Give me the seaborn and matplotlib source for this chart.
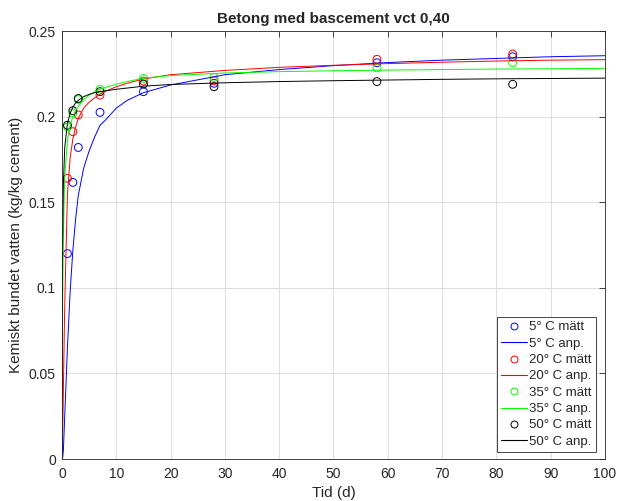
# BETONG MED BASCEMENT VCT 0,40 - KEMISKT BUNDET VATTEN

import pandas as pd
import numpy as np
import matplotlib
matplotlib.use('Agg')
import matplotlib.pyplot as plt
import seaborn as sns
from matplotlib.lines import Line2D


# MEASURED DATA (mätt)

days = [1, 2, 3, 7, 15, 28, 58, 83]
w_5 = [0.120, 0.1616, 0.182, 0.2025, 0.2146, 0.2195, 0.2315, 0.2350]
w_20 = [0.164, 0.1912, 0.201, 0.2126, 0.2208, 0.2210, 0.2335, 0.2366]
w_35 = [0.194, 0.2020, 0.210, 0.2160, 0.2223, 0.2229, 0.2285, 0.2315]
w_50 = [0.195, 0.2035, 0.2106, 0.2146, 0.2190, 0.2175, 0.2205, 0.2189]


# FITTED CURVES (anp.)

t_fit = [0, 0.1, 0.25, 0.5, 1, 1.5, 2, 2.5, 3, 4, 5, 6, 7, 8, 10, 12, 15, 20,
         30, 40, 50, 60, 70, 80, 90, 100]
fit_5 = [0, 0.0, 0.005, 0.025, 0.065, 0.098, 0.122, 0.140, 0.154, 0.170, 0.180, 0.188,
         0.195, 0.198, 0.205, 0.2095, 0.214, 0.2185,
         0.2245, 0.2275, 0.2298, 0.2316, 0.233, 0.234, 0.235, 0.2356]
fit_20 = [0, 0.01, 0.04, 0.09, 0.155, 0.176, 0.187, 0.194, 0.199, 0.205, 0.2085, 0.211,
          0.213, 0.2148, 0.2175, 0.2195, 0.222, 0.2245,
          0.227, 0.2288, 0.230, 0.231, 0.2318, 0.2325, 0.233, 0.2333]
fit_35 = [0, 0.085, 0.13, 0.165, 0.186, 0.195, 0.200, 0.2035, 0.206, 0.210, 0.2125, 0.2145,
          0.216, 0.217, 0.219, 0.2205, 0.2225, 0.224,
          0.2255, 0.2263, 0.2268, 0.2272, 0.2275, 0.2278, 0.228, 0.2282]
fit_50 = [0, 0.12, 0.16, 0.182, 0.196, 0.202, 0.2055, 0.208, 0.2095, 0.2117, 0.213, 0.214,
          0.2146, 0.2151, 0.216, 0.2167, 0.2178, 0.2188,
          0.2198, 0.2205, 0.221, 0.2214, 0.2218, 0.2221, 0.2223, 0.2225]

temps = ['5° C', '20° C', '35° C', '50° C']
colors = ['#0000ff', '#ff0000', '#00ff00', '#000000']

measured = [w_5, w_20, w_35, w_50]
fitted = [fit_5, fit_20, fit_35, fit_50]


# STYLE

sns.set_style('white')
plt.rcParams['font.family'] = ['Liberation Sans', 'DejaVu Sans']

fig = plt.figure(figsize=(6.17, 5.01), dpi=100)
ax = fig.add_axes([0.1005, 0.0838, 0.88, 0.8542])


# PLOTTING

handles = []
labels = []
for temp, col, meas, fit in zip(temps, colors, measured, fitted):
    df_m = pd.DataFrame({'Tid': days, 'w': meas})
    df_f = pd.DataFrame({'Tid': t_fit, 'w': fit})
    sns.lineplot(x='Tid', y='w', data=df_f, ax=ax, color=col, linewidth=0.7,
                 estimator=None, sort=False)
    sns.scatterplot(x='Tid', y='w', data=df_m, ax=ax, marker='o', s=32,
                    facecolors='none', edgecolor=col, linewidth=0.7)
    handles.append(Line2D([], [], linestyle='none', marker='o', markersize=5,
                          markerfacecolor='none', markeredgecolor=col, markeredgewidth=0.7))
    labels.append(temp + ' mätt')
    handles.append(Line2D([], [], color=col, linewidth=0.8))
    labels.append(temp + ' anp.')


# AXES

ax.set_xlim(0, 100)
ax.set_ylim(0, 0.25)
ax.set_xticks(np.arange(0, 101, 10))
ax.set_yticks([0, 0.05, 0.1, 0.15, 0.2, 0.25])
ax.set_yticklabels(['0', '0.05', '0.1', '0.15', '0.2', '0.25'])
ax.grid(True, color='#dedede', linewidth=0.7)
ax.set_axisbelow(True)
ax.tick_params(direction='in', length=4, width=0.6, top=True, right=True,
               labelsize=10, colors='#262626')
ax.tick_params(axis='x', pad=6)
ax.tick_params(axis='y', pad=4.5)
for sp in ax.spines.values():
    sp.set_color('#262626')
    sp.set_linewidth(0.6)

ax.set_title('Betong med bascement vct 0,40', fontsize=11, fontweight='bold', pad=6)
ax.set_xlabel('Tid (d)', fontsize=11, color='#262626', labelpad=3)
ax.set_ylabel('Kemiskt bundet vatten (kg/kg cement)', fontsize=11, color='#262626', labelpad=4)

leg = ax.legend(handles, labels, loc='lower right', bbox_to_anchor=(0.983, 0.017),
                fontsize=9.5, frameon=True, fancybox=False, edgecolor='#262626',
                framealpha=1, handlelength=2.0, handletextpad=0.15, labelspacing=0.31,
                borderpad=0.3, borderaxespad=0)
leg.get_frame().set_linewidth(0.6)

plt.savefig('out.png', dpi=100)
